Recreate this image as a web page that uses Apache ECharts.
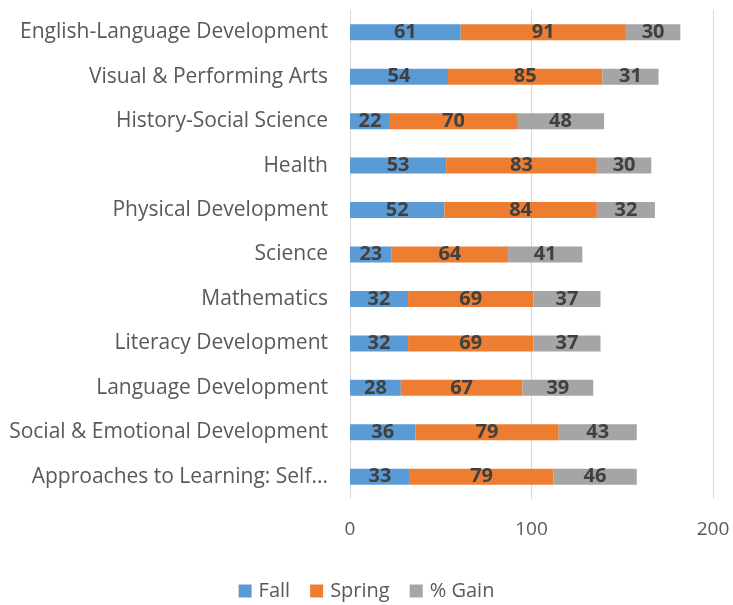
<!DOCTYPE html>
<html><head><meta charset="utf-8">
<script src="https://cdn.jsdelivr.net/npm/echarts@6/dist/echarts.min.js"></script>
<style>html,body{margin:0;padding:0;background:#fff}#c{width:733px;height:605px}</style>
</head><body><div id="c"></div>
<script>
var categories = ["Approaches to Learning: Self...","Social & Emotional Development","Language Development","Literacy Development","Mathematics","Science","Physical Development","Health","History-Social Science","Visual & Performing Arts","English-Language Development"];
var fall = [33,36,28,32,32,23,52,53,22,54,61];
var spring = [79,79,67,69,69,64,84,83,70,85,91];
var gain = [46,43,39,37,37,41,32,30,48,31,30];
var xTicks = [0,100,200];
var font = "'Open Sans', sans-serif";
function s(name, data, color){
  return {name:name,type:'bar',stack:'t',data:data,barWidth:16,itemStyle:{color:color},
    label:{show:true,position:'inside',color:'#404040',fontWeight:'bold',fontSize:20,fontFamily:font}};
}
var chart = echarts.init(document.getElementById('c'));
chart.setOption({
  animation:false,
  grid:{left:350,right:20,top:10,bottom:106,containLabel:false},
  xAxis:{type:'value',min:xTicks[0],max:xTicks[xTicks.length-1],interval:100,
    axisLine:{show:false},axisTick:{show:false},
    splitLine:{lineStyle:{color:'#d9d9d9',width:1}},
    axisLabel:{color:'#595959',fontSize:19,fontFamily:font,margin:21}},
  yAxis:{type:'category',data:categories,axisLine:{show:false},axisTick:{show:false},
    axisLabel:{color:'#595959',fontSize:21,fontFamily:font,margin:22}},
  legend:{top:581,left:'center',padding:0,itemWidth:13,itemHeight:13,itemGap:20,
    textStyle:{color:'#595959',fontSize:20,fontFamily:font,padding:[0,0,0,2]},
    data:[{name:'Fall',icon:'rect'},{name:'Spring',icon:'rect'},{name:'% Gain',icon:'rect'}]},
  series:[s('Fall',fall,'#5B9BD5'),s('Spring',spring,'#ED7D31'),s('% Gain',gain,'#A5A5A5')]
});
</script></body></html>
